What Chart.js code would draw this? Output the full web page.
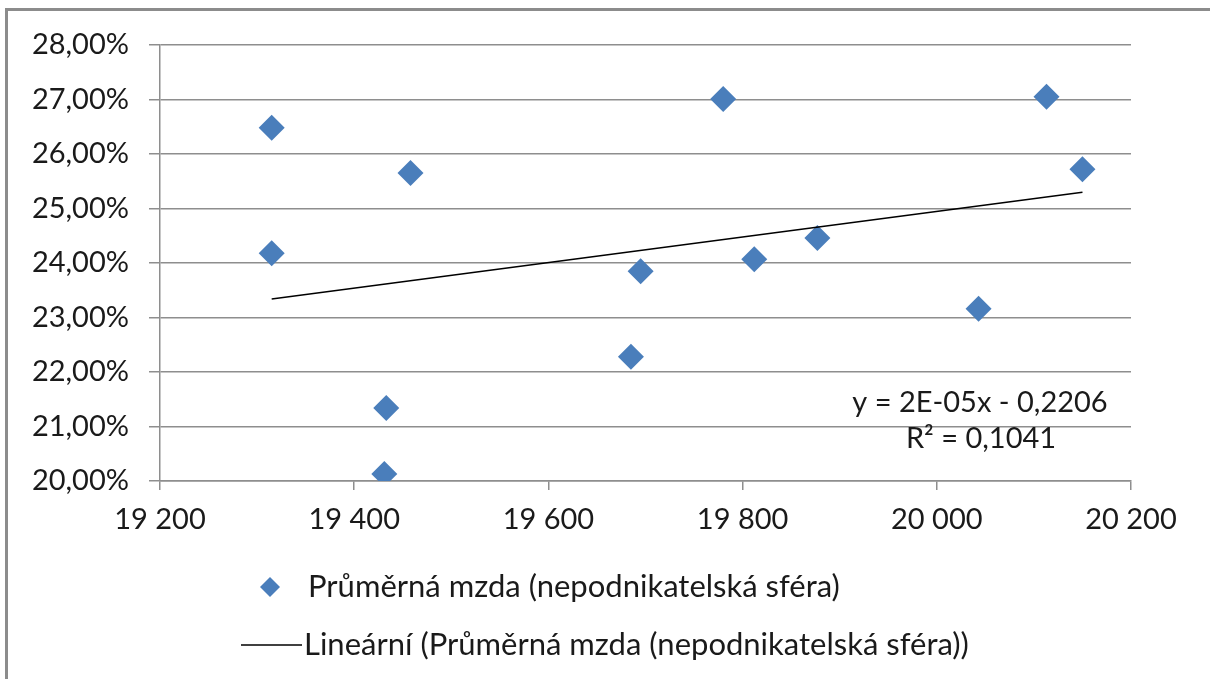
<!DOCTYPE html>
<html>
<head>
<meta charset="utf-8">
<script src="https://cdn.jsdelivr.net/npm/chart.js@4"></script>
<style>
  body { margin: 0; background: #fff; }
  #frame { position: absolute; left: 5px; top: 8px; width: 1300px; height: 800px;
    border-left: 3px solid #8c8c8c; border-top: 3px solid #8c8c8c; pointer-events: none; }
</style>
</head>
<body>
<canvas id="myChart" width="1210" height="679"></canvas>
<div id="frame"></div>
<script>
const grapharea = document.getElementById("myChart");

// prumerna mzda (x) vs. podil (y, %)
const mzda = [19315, 19315, 19458, 19433, 19431, 19685, 19695, 19780, 19812, 19877, 20043, 20113, 20150];
const podil = [26.48, 24.18, 25.65, 21.34, 20.13, 22.28, 23.85, 27.01, 24.07, 24.46, 23.16, 27.05, 25.72];

// linearni trend, koncove body
const trendX = [19315, 20150];
const trendY = [23.34, 25.30];

const equation = ["y = 2E-05x - 0,2206", "R² = 0,1041"];
const labelPoints = "Průměrná mzda (nepodnikatelská sféra)";
const labelTrend = "Lineární (Průměrná mzda (nepodnikatelská sféra))";

const FONT = "Lato, 'Open Sans', sans-serif";
const blue = "#4a7ebb";
const textColor = "#1a1a1a";

const data = {
  datasets: [
    {
      label: labelPoints,
      type: "scatter",
      data: mzda.map((x, i) => ({ x: x, y: podil[i] })),
      backgroundColor: blue,
      borderColor: blue,
      pointStyle: "rectRot",
      pointRadius: 13,
      pointHoverRadius: 13,
      borderWidth: 0,
      order: 2,
    },
    {
      label: labelTrend,
      type: "line",
      data: trendX.map((x, i) => ({ x: x, y: trendY[i] })),
      borderColor: "#000",
      borderWidth: 1.5,
      pointRadius: 0,
      fill: false,
      order: 1,
    },
  ],
};

// legenda + rovnice trendu
const extras = {
  id: "extras",
  afterDraw(chart) {
    const ctx = chart.ctx;
    ctx.save();
    ctx.fillStyle = textColor;
    ctx.font = "29px " + FONT;
    ctx.textBaseline = "middle";
    ctx.textAlign = "center";
    ctx.fillText(equation[0], 980, 403);
    ctx.fillText(equation[1], 981, 439);

    ctx.font = "31px " + FONT;
    ctx.textAlign = "left";
    ctx.fillStyle = blue;
    ctx.beginPath();
    ctx.moveTo(270, 577); ctx.lineTo(280, 587); ctx.lineTo(270, 597); ctx.lineTo(260, 587);
    ctx.closePath();
    ctx.fill();
    ctx.fillStyle = textColor;
    ctx.fillText(chart.data.datasets[0].label, 308, 587);

    ctx.strokeStyle = "#000";
    ctx.lineWidth = 1.5;
    ctx.beginPath();
    ctx.moveTo(241, 645); ctx.lineTo(302, 645);
    ctx.stroke();
    ctx.fillText(chart.data.datasets[1].label, 304, 645);
    ctx.restore();
  },
};

const config = {
  type: "scatter",
  data: data,
  options: {
    responsive: false,
    animation: false,
    layout: { padding: { left: 0, top: 45, right: 79, bottom: 138 } },
    plugins: { legend: { display: false }, tooltip: { enabled: false } },
    scales: {
      x: {
        type: "linear",
        min: 19200,
        max: 20200,
        afterFit: (s) => { s.height = 60; },
        ticks: {
          stepSize: 200,
          color: textColor,
          padding: 12,
          maxRotation: 0,
          font: { family: FONT, size: 29 },
          callback: (v) => String(v).replace(/\B(?=(\d{3})+(?!\d))/g, " "),
        },
        grid: { drawOnChartArea: false, drawTicks: true, tickLength: 9, color: "#8e8e8e", lineWidth: 1.5 },
        border: { color: "#8e8e8e", width: 1.5 },
      },
      y: {
        min: 20,
        max: 28,
        afterFit: (s) => { s.width = 160; },
        ticks: {
          stepSize: 1,
          color: textColor,
          padding: 20,
          font: { family: FONT, size: 29 },
          callback: (v) => v.toFixed(2).replace(".", ",") + "%",
        },
        grid: { color: "#8e8e8e", lineWidth: 1.5, tickLength: 11 },
        border: { color: "#8e8e8e", width: 1.5 },
      },
    },
  },
  plugins: [extras],
};

const myChart = new Chart(grapharea, config);
</script>
</body>
</html>
